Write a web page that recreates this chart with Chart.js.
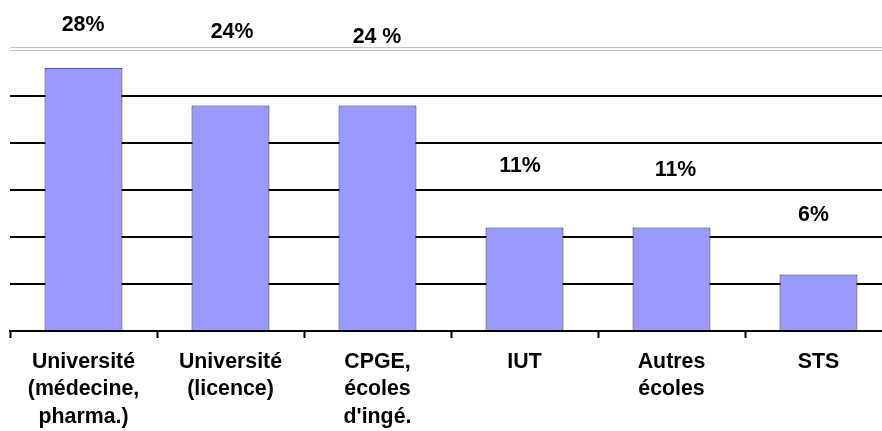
<!DOCTYPE html>
<html>
<head>
<meta charset="utf-8">
<script src="https://cdn.jsdelivr.net/npm/chart.js@4/dist/chart.umd.min.js"></script>
<style>
  html, body { margin: 0; padding: 0; background: #fff; overflow: hidden; }
  #wrap { width: 882px; height: 431px; overflow: hidden; position: relative; }
  #box { width: 900px; height: 431px; position: absolute; left: 0; top: 0; }
</style>
</head>
<body>
<div id="wrap"><div id="box"><canvas id="myChart"></canvas></div></div>
<script>
// data
const categories = [
  ['Université', '(médecine,', 'pharma.)'],
  ['Université', '(licence)'],
  ['CPGE,', 'écoles', "d'ingé."],
  ['IUT'],
  ['Autres', 'écoles'],
  ['STS']
]
const shares = [28, 24, 24, 11, 11, 6]
const shareLabels = ['28%', '24%', '24 %', '11%', '11%', '6%']
const yMin = 0
const yMax = 30
const yStep = 5

const FONT = "'Liberation Sans', Arial, sans-serif"

// labels are not placed evenly in the original, so each one gets a nudge
const labelNudge = [
  { dx: -0.5, lift: 37 },
  { dx: 1.5, lift: 67 },
  { dx: -0.5, lift: 62 },
  { dx: -4.5, lift: 56 },
  { dx: 4, lift: 52 },
  { dx: -5, lift: 54 }
]

const valueLabelsPlugin = {
  id: 'valueLabels',
  afterDatasetsDraw (chart) {
    const ctx = chart.ctx
    const meta = chart.getDatasetMeta(0)
    ctx.save()
    ctx.font = 'bold 21.33px ' + FONT
    ctx.fillStyle = '#000'
    ctx.textAlign = 'center'
    ctx.textBaseline = 'alphabetic'
    meta.data.forEach((bar, i) => {
      const n = labelNudge[i]
      ctx.fillText(shareLabels[i], bar.x + n.dx, bar.y - n.lift)
    })
    ctx.restore()
  }
}

// grey double line at the top of the plot
const topLinePlugin = {
  id: 'topLine',
  beforeDatasetsDraw (chart) {
    const ctx = chart.ctx
    const y = chart.scales.y.getPixelForValue(yMax)
    ctx.save()
    ctx.strokeStyle = '#c4c4c4'
    ctx.lineWidth = 1
    ;[Math.round(y) - 1.5, Math.round(y) + 1.5].forEach((yy) => {
      ctx.beginPath()
      ctx.moveTo(chart.chartArea.left, yy)
      ctx.lineTo(chart.chartArea.right, yy)
      ctx.stroke()
    })
    ctx.restore()
  }
}

const ctx = document.getElementById('myChart').getContext('2d')
const myChart = new Chart(ctx, {
  type: 'bar',
  data: {
    labels: categories,
    datasets: [
      {
        data: shares,
        backgroundColor: '#9999ff',
        borderColor: '#222222',
        borderWidth: 1,
        barPercentage: 0.53,
        categoryPercentage: 1
      }
    ]
  },
  options: {
    responsive: true,
    maintainAspectRatio: false,
    animation: false,
    layout: {
      padding: { left: 10, right: 8, top: 49, bottom: 0 }
    },
    plugins: {
      legend: { display: false },
      tooltip: { enabled: false },
      title: { display: false }
    },
    scales: {
      x: {
        grid: {
          display: true,
          offset: true,
          drawOnChartArea: false,
          drawTicks: true,
          tickLength: 7,
          tickWidth: 2,
          tickColor: '#000'
        },
        border: { display: true, color: '#000', width: 2 },
        ticks: {
          color: '#000',
          autoSkip: false,
          maxRotation: 0,
          padding: 10.5,
          font: { family: FONT, size: 21.33, weight: 'bold', lineHeight: 1.28 }
        },
        afterFit (scale) {
          scale.height = 100
        }
      },
      y: {
        min: yMin,
        max: yMax,
        ticks: { display: false, stepSize: yStep },
        grid: {
          drawTicks: false,
          lineWidth: 2,
          color: (c) => (c.tick && c.tick.value === yMax ? 'rgba(0,0,0,0)' : '#000')
        },
        border: { display: false },
        afterFit (scale) {
          scale.width = 0
        }
      }
    }
  },
  plugins: [valueLabelsPlugin, topLinePlugin]
})
</script>
</body>
</html>
